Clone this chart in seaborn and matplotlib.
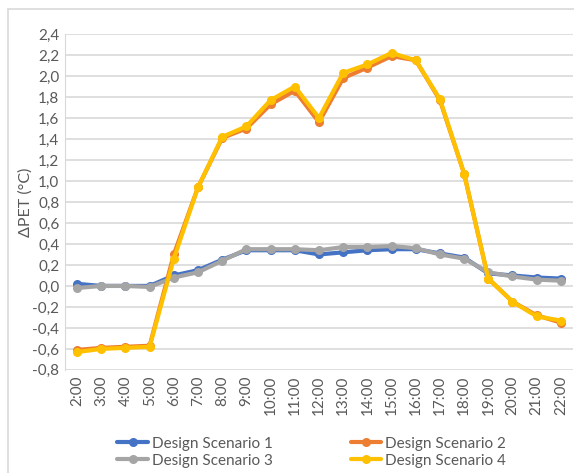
import numpy as np
import pandas as pd
import seaborn as sns
import matplotlib.pyplot as plt
from matplotlib.patches import Rectangle
from matplotlib.ticker import FixedLocator, FuncFormatter

# hours on x axis
hours = ['2:00', '3:00', '4:00', '5:00', '6:00', '7:00', '8:00', '9:00', '10:00', '11:00',
         '12:00', '13:00', '14:00', '15:00', '16:00', '17:00', '18:00', '19:00', '20:00',
         '21:00', '22:00']

# delta PET values
scenario_1 = [0.02, 0.00, 0.00, 0.00, 0.10, 0.15, 0.25, 0.34, 0.34, 0.34, 0.30, 0.32,
              0.34, 0.35, 0.35, 0.31, 0.27, 0.12, 0.10, 0.08, 0.07]
scenario_2 = [-0.61, -0.59, -0.58, -0.57, 0.30, 0.94, 1.41, 1.50, 1.73, 1.86, 1.56, 1.98,
              2.08, 2.19, 2.15, 1.77, 1.07, 0.07, -0.15, -0.28, -0.35]
scenario_3 = [-0.02, 0.00, 0.00, -0.01, 0.08, 0.13, 0.24, 0.35, 0.35, 0.35, 0.34, 0.37,
              0.37, 0.38, 0.36, 0.30, 0.26, 0.13, 0.09, 0.06, 0.05]
scenario_4 = [-0.63, -0.60, -0.59, -0.58, 0.26, 0.94, 1.42, 1.52, 1.77, 1.90, 1.60, 2.03,
              2.11, 2.22, 2.15, 1.78, 1.07, 0.07, -0.15, -0.29, -0.33]

names = ['Design Scenario 1', 'Design Scenario 2', 'Design Scenario 3', 'Design Scenario 4']
y_ticks = [-0.8, -0.6, -0.4, -0.2, 0.0, 0.2, 0.4, 0.6, 0.8, 1.0, 1.2, 1.4, 1.6, 1.8,
           2.0, 2.2, 2.4]

colors = ['#4472C4', '#ED7D31', '#A5A5A5', '#FFC000']

rows = []
for name, vals in zip(names, [scenario_1, scenario_2, scenario_3, scenario_4]):
    for i, v in enumerate(vals):
        rows.append({'idx': i, 'value': v, 'series': name})
df = pd.DataFrame(rows)

sns.set_style('white')
plt.rcParams['font.family'] = ['Lato', 'DejaVu Sans']

fig = plt.figure(figsize=(5.74, 4.73), dpi=100)
ax = fig.add_axes([0.1132, 0.218, 0.885, 0.71])

sns.lineplot(data=df, x='idx', y='value', hue='series', palette=colors,
             marker='o', markersize=6.5, markeredgewidth=0, linewidth=3,
             ax=ax, legend=False)

ax.set_xlim(-0.5, 20.5)
ax.set_ylim(-0.8, 2.4)
ax.yaxis.set_major_locator(FixedLocator(y_ticks))
ax.yaxis.set_major_formatter(FuncFormatter(lambda v, p: f'{v:.1f}'.replace('.', ',')))
ax.set_xticks(range(len(hours)))
ax.set_xticklabels(hours, rotation=90)
ax.grid(axis='y', color='#D9D9D9', linewidth=1.2)
ax.set_axisbelow(True)
for s in ['top', 'right', 'bottom']:
    ax.spines[s].set_visible(False)
ax.spines['left'].set_color('#D9D9D9')
ax.tick_params(axis='both', labelsize=11, colors='#595959', length=0, pad=4)
ax.set_xlabel('')
ax.set_ylabel('ΔPET (°C)', fontsize=11.5, color='#595959', labelpad=0)

# outer chart frame
fig.patches.append(Rectangle((0.014, -0.01), 1.0, 0.99, transform=fig.transFigure,
                             fill=False, edgecolor='#D9D9D9', linewidth=1.2))

# legend laid out row-wise: 1, 2 / 3, 4
order = [0, 2, 1, 3]
handles = [plt.Line2D([0], [0], color=colors[i], linewidth=3, marker='o', markersize=6.5,
                      markeredgewidth=0) for i in order]
fig.legend(handles, [names[i] for i in order], ncol=2, loc='center',
           bbox_to_anchor=(0.543, 0.044), frameon=False, fontsize=11,
           handlelength=2.0, handletextpad=0.25, columnspacing=5.1,
           labelspacing=0.2, labelcolor='#595959')

fig.savefig('out.png', dpi=100)
